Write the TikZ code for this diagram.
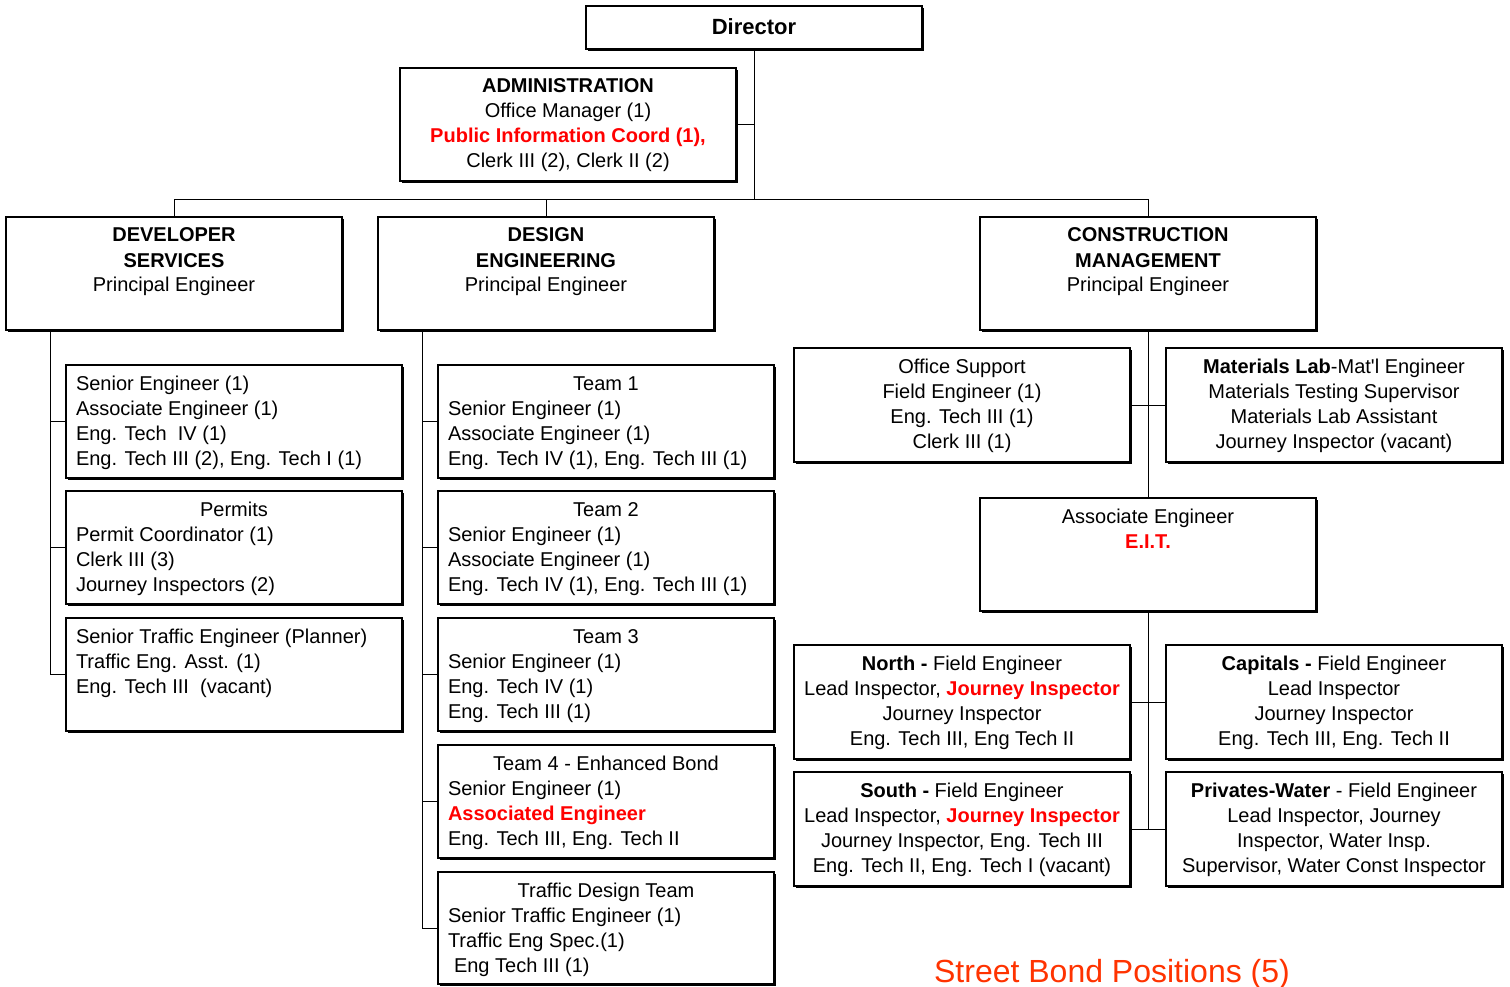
\documentclass[tikz,border=0pt]{standalone}
\usepackage{fontspec}
\setmainfont{Liberation Sans}
\definecolor{hired}{RGB}{255,0,0}
\definecolor{sbond}{RGB}{255,51,0}
\newcommand\fl{\rule{0pt}{25pt}}
\newcommand\rd[1]{\textcolor{hired}{\bfseries #1}}
\newcommand\LL{\par\raggedright\leftskip=10pt\relax}
\tikzset{
  box/.style={draw, line width=1.2pt, fill=white, inner sep=0pt, outer sep=0pt},
  boxedge/.style={line width=2.4pt},
  conn/.style={line width=1pt},
}
\newcommand\ob[6]{%
  \node[box] (#1) at ({#2+#4/2},{#3+#5/2})
    {\parbox[c][#5pt][t]{#4pt}{\fontsize{20}{25}\selectfont #6}};
  \draw[boxedge] ([shift={(1.2pt,-2pt)}]#1.north east) -- ([shift={(1.2pt,-1.2pt)}]#1.south east) -- ([shift={(2pt,-1.2pt)}]#1.south west);
}
\begin{document}
\begin{tikzpicture}[x=1pt,y=-1pt]
\useasboundingbox[fill=white] (0,0) rectangle (1510,987);

% top level
\ob{dir}{586}{6}{336}{43}{\centering\fontsize{22}{26}\selectfont\bfseries\rule{0pt}{29pt}Director}
\ob{adm}{400}{68}{336}{113}{\centering\fl\textbf{ADMINISTRATION}\\Office Manager (1)\\\rd{Public Information Coord (1),}\\Clerk III (2), Clerk II (2)}
\ob{dev}{6}{217}{336}{113}{\centering\fl\textbf{DEVELOPER}\\\textbf{SERVICES}\\Principal Engineer}
\ob{des}{378}{217}{336}{113}{\centering\fl\textbf{DESIGN}\\\textbf{ENGINEERING}\\Principal Engineer}
\ob{con}{980}{217}{336}{113}{\centering\fl\textbf{CONSTRUCTION}\\\textbf{MANAGEMENT}\\Principal Engineer}

% developer services
\ob{dev1}{66}{365}{336}{113}{\raggedright\leftskip=10pt\relax\fl Senior Engineer (1)\\Associate Engineer (1)\\Eng. Tech\ \ IV (1)\\Eng. Tech III (2), Eng. Tech I (1)}
\ob{dev2}{66}{491}{336}{113}{\centering\fl Permits\LL Permit Coordinator (1)\\Clerk III (3)\\Journey Inspectors (2)}
\ob{dev3}{66}{618}{336}{113}{\raggedright\leftskip=10pt\relax\fl Senior Traffic Engineer (Planner)\\Traffic Eng. Asst. (1)\\Eng. Tech III\ \ (vacant)}

% design engineering
\ob{t1}{438}{365}{336}{113}{\centering\fl Team 1\LL Senior Engineer (1)\\Associate Engineer (1)\\Eng. Tech IV (1), Eng. Tech III (1)}
\ob{t2}{438}{491}{336}{113}{\centering\fl Team 2\LL Senior Engineer (1)\\Associate Engineer (1)\\Eng. Tech IV (1), Eng. Tech III (1)}
\ob{t3}{438}{618}{336}{113}{\centering\fl Team 3\LL Senior Engineer (1)\\Eng. Tech IV (1)\\Eng. Tech III (1)}
\ob{t4}{438}{745}{336}{113}{\centering\fl Team 4 - Enhanced Bond\LL Senior Engineer (1)\\\rd{Associated Engineer}\\Eng. Tech III, Eng. Tech II}
\ob{traf}{438}{872}{336}{112}{\centering\fl Traffic Design Team\LL Senior Traffic Engineer (1)\\Traffic Eng Spec.(1)\\\hspace*{6pt}Eng Tech III (1)}

% construction management
\ob{off}{794}{348}{336}{114}{\centering\fl Office Support\\Field Engineer (1)\\Eng. Tech III (1)\\Clerk III (1)}
\ob{mat}{1166}{348}{336}{114}{\centering\fl\textbf{Materials Lab}-Mat\textquotesingle l Engineer\\Materials Testing Supervisor\\Materials Lab Assistant\\Journey Inspector (vacant)}
\ob{ae}{980}{498}{336}{113}{\centering\fl Associate Engineer\\\rd{E.I.T.}}
\ob{north}{794}{645}{336}{114}{\centering\fl\textbf{North -} Field Engineer\\Lead Inspector, \rd{Journey Inspector}\\Journey Inspector\\Eng. Tech III, Eng Tech II}
\ob{cap}{1166}{645}{336}{114}{\centering\fl\textbf{Capitals -} Field Engineer\\Lead Inspector\\Journey Inspector\\Eng. Tech III, Eng. Tech II}
\ob{south}{794}{772}{336}{114}{\centering\fl\textbf{South -} Field Engineer\\Lead Inspector, \rd{Journey Inspector}\\Journey Inspector, Eng. Tech III\\Eng. Tech II, Eng. Tech I (vacant)}
\ob{priv}{1166}{772}{336}{114}{\centering\fl\textbf{Privates-Water} - Field Engineer\\Lead Inspector, Journey\\Inspector, Water Insp.\\Supervisor, Water Const Inspector}

\node[anchor=base, inner sep=0pt, text=sbond, font=\fontsize{32}{36}\selectfont] (sb) at (1112,982) {Street Bond Positions (5)};

% connectors
\coordinate (bus) at (0,200);
\coordinate (dvx) at (50,0);
\coordinate (dsx) at (422,0);
\draw[conn] (dir.south) -- (dir.south |- bus);
\draw[conn] (adm.east) -- (adm.east -| dir.south);
\draw[conn] (dev.north) -- (dev.north |- bus) -- (con.north |- bus) -- (con.north);
\draw[conn] (des.north) -- (des.north |- bus);

\draw[conn] (dev.south -| dvx) |- (dev3.west);
\draw[conn] (dev1.west -| dvx) -- (dev1.west);
\draw[conn] (dev2.west -| dvx) -- (dev2.west);

\draw[conn] (des.south -| dsx) |- (traf.west);
\draw[conn] (t1.west -| dsx) -- (t1.west);
\draw[conn] (t2.west -| dsx) -- (t2.west);
\draw[conn] (t3.west -| dsx) -- (t3.west);
\draw[conn] (t4.west -| dsx) -- (t4.west);

\draw[conn] (con.south) -- (ae.north);
\draw[conn] (off.east) -- (mat.west);
\draw[conn] (ae.south) -- (ae.south |- south.east);
\draw[conn] (north.east) -- (cap.west);
\draw[conn] (south.east) -- (priv.west);
\end{tikzpicture}
\end{document}
